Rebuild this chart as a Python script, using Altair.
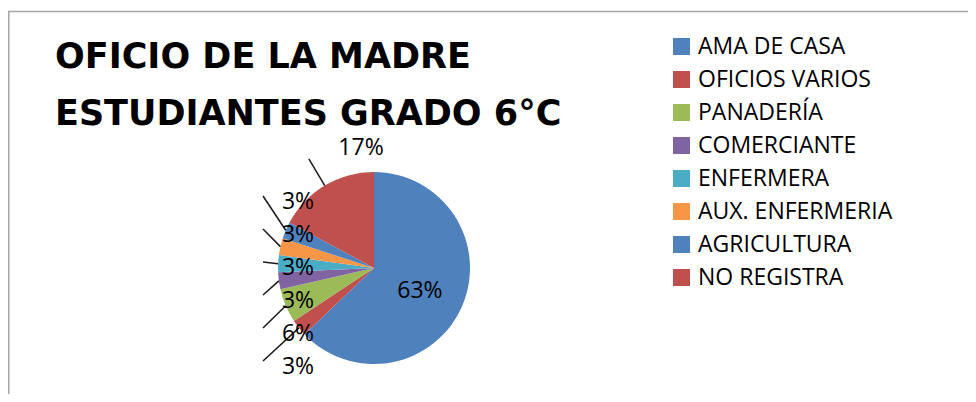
import altair as alt
import pandas as pd
import numpy as np

categories = ["AMA DE CASA", "OFICIOS VARIOS", "PANADERÍA", "COMERCIANTE",
              "ENFERMERA", "AUX. ENFERMERIA", "AGRICULTURA", "NO REGISTRA"]
counts = [22, 1, 2, 1, 1, 1, 1, 6]
colors = ["#4F81BD", "#C0504D", "#9BBB59", "#8064A2",
          "#4BACC6", "#F79646", "#4F81BD", "#C0504D"]
title_lines = ["OFICIO DE LA MADRE", "ESTUDIANTES GRADO 6°C"]

W, H = 960, 386
CX, CY, R = 366, 260, 96
FONT = "Open Sans"
LBL = 23

total = sum(counts)
df = pd.DataFrame({"cat": categories, "n": counts, "idx": range(len(categories))})
df["pct"] = (df["n"] / total * 100).round().astype(int).astype(str) + "%"
cum = df["n"].cumsum()
mid = (cum - df["n"] / 2) / total * 2 * np.pi
df["ex"] = CX + R * np.sin(mid)
df["ey"] = CY - R * np.cos(mid)

lx, ly, x2, y2, has_line = [], [], [], [], []
last = len(df) - 1
for i, a in enumerate(mid):
    if i == 0:
        lx.append(CX + 50 * np.sin(a)); ly.append(CY - 50 * np.cos(a))
        x2.append(np.nan); y2.append(np.nan); has_line.append(False)
    elif i == last:
        lx.append(CX - 13); ly.append(CY - R - 27)
        x2.append(CX + (R + 31) * np.sin(a)); y2.append(CY - (R + 31) * np.cos(a))
        has_line.append(True)
    else:
        yy = CY + R - 33 * (i - 1)
        lx.append(CX - 76); ly.append(yy)
        x2.append(CX - 111); y2.append(yy - 3)
        has_line.append(True)
df["lx"], df["ly"], df["x2"], df["y2"], df["line"] = lx, ly, x2, y2, has_line

base = alt.Chart(df)

pie = base.mark_arc(outerRadius=R, stroke=None).encode(
    theta=alt.Theta("n:Q", stack=True),
    order=alt.Order("idx:Q"),
    x=alt.value(CX), y=alt.value(CY),
    color=alt.Color("cat:N", scale=alt.Scale(domain=categories, range=colors),
                    legend=alt.Legend(title=None, orient="none", legendX=662, legendY=27,
                                      symbolType="square", symbolSize=289,
                                      symbolStrokeWidth=0, labelFontSize=LBL,
                                      labelFont=FONT, labelColor="#000000",
                                      labelLimit=0, rowPadding=9, labelOffset=5,
                                      padding=0)),
)

lines = base.transform_filter("datum.line").mark_rule(color="#1A1A1A", strokeWidth=1.5).encode(
    x=alt.X("ex:Q", scale=None, axis=None), y=alt.Y("ey:Q", scale=None, axis=None),
    x2="x2:Q", y2="y2:Q",
)

labels = base.mark_text(font=FONT, fontSize=LBL, color="#000000", align="center",
                        baseline="middle", dy=3).encode(
    x=alt.X("lx:Q", scale=None, axis=None), y=alt.Y("ly:Q", scale=None, axis=None),
    text="pct:N",
)

title = alt.Chart(pd.DataFrame({"t": [0]})).mark_text(
    font="DejaVu Sans", fontSize=35, fontWeight="bold", color="#000000", align="left",
    baseline="alphabetic", lineHeight=57, text=title_lines,
).encode(x=alt.value(47), y=alt.value(60))

border_top = alt.Chart(pd.DataFrame({"t": [0]})).mark_rule(color="#A6A6A6", strokeWidth=1.5).encode(
    x=alt.value(0), x2=alt.value(W), y=alt.value(3.5))
border_left = alt.Chart(pd.DataFrame({"t": [0]})).mark_rule(color="#A6A6A6", strokeWidth=1.5).encode(
    x=alt.value(0.75), y=alt.value(3.5), y2=alt.value(H))

chart = alt.layer(border_top, border_left, pie, lines, labels, title).properties(
    width=W, height=H, autosize="none", padding=0,
).configure_view(stroke=None)

chart.save("out.html", embed_options={"renderer": "svg", "actions": False})
